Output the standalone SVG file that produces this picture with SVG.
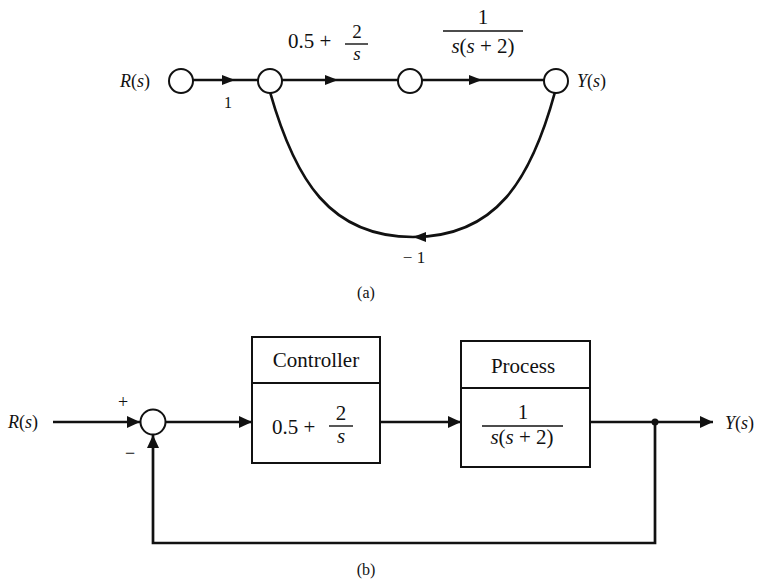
<svg xmlns="http://www.w3.org/2000/svg" width="759" height="580" viewBox="0 0 759 580">
<style>
text{font-family:"Liberation Serif","Times New Roman",serif;fill:#111}
.i{font-style:italic}
.node{fill:#fff;stroke:#111;stroke-width:2}
.ln{fill:none;stroke:#111;stroke-width:2.7}
.box{fill:#fff;stroke:#111;stroke-width:2}
.bar{stroke:#111;stroke-width:1.4}
.big{font-size:21px}
.sig{font-size:18px}
</style>
<defs>
<marker id="ah" markerUnits="userSpaceOnUse" markerWidth="14" markerHeight="12" refX="13" refY="6" orient="auto">
<path d="M0,0 L13,6 L0,12 z" fill="#111"/>
</marker>
<marker id="ahs" markerUnits="userSpaceOnUse" markerWidth="14" markerHeight="11" refX="13" refY="5" orient="auto">
<path d="M0,0 L13,5 L0,10 z" fill="#111"/>
</marker>
</defs>
<rect width="759" height="580" fill="#fff"/>

<!-- (a) signal flow graph -->
<g id="connectors-a">
<path class="ln" d="M193,80 L235,80 L258,80" marker-mid="url(#ahs)"/>
<path class="ln" d="M282,80 L338,80 L398,80" marker-mid="url(#ahs)"/>
<path class="ln" d="M422,80 L482,80 L544,80" marker-mid="url(#ahs)"/>
<path class="ln" d="M555,92 C531,180 496,237 413,237 C330,237 295,180 270,92" marker-mid="url(#ahs)"/>
</g>
<g id="n-R">
<circle class="node" cx="181" cy="81" r="12"/>
<text class="sig" x="120" y="87"><tspan class="i">R</tspan>(<tspan class="i">s</tspan>)</text>
</g>
<g id="n-2"><circle class="node" cx="270" cy="81" r="12"/></g>
<g id="n-3"><circle class="node" cx="410" cy="81" r="12"/></g>
<g id="n-Y">
<circle class="node" cx="556" cy="81" r="12"/>
<text class="sig" x="577" y="87"><tspan class="i">Y</tspan>(<tspan class="i">s</tspan>)</text>
</g>
<g id="labels-a">
<text x="228" y="108" font-size="16" text-anchor="middle">1</text>
<text class="big" x="288" y="48">0.5 +</text>
<text x="357" y="38" font-size="19" text-anchor="middle">2</text>
<line class="bar" x1="345" y1="44" x2="368" y2="44"/>
<text x="357" y="59.5" font-size="19" class="i" text-anchor="middle">s</text>
<text class="big" x="483" y="24" text-anchor="middle">1</text>
<line class="bar" x1="443" y1="31" x2="523" y2="31"/>
<text class="big" x="483" y="53" text-anchor="middle"><tspan class="i">s</tspan>(<tspan class="i">s</tspan> + 2)</text>
<text x="414" y="263" font-size="17" text-anchor="middle">− 1</text>
<text x="366" y="298" font-size="16" text-anchor="middle">(a)</text>
</g>

<!-- (b) block diagram -->
<g id="connectors-b">
<line class="ln" x1="53" y1="422" x2="140" y2="422" marker-end="url(#ah)"/>
<line class="ln" x1="165.5" y1="422" x2="252" y2="422" marker-end="url(#ah)"/>
<line class="ln" x1="380" y1="422" x2="461" y2="422" marker-end="url(#ah)"/>
<line class="ln" x1="590" y1="422" x2="713" y2="422" marker-end="url(#ah)"/>
<path class="ln" d="M655,422 L655,543 L153,543 L153,435" marker-end="url(#ah)"/>
<circle cx="655" cy="422" r="3.5" fill="#111"/>
</g>
<g id="in-R">
<text class="sig" x="8" y="428"><tspan class="i">R</tspan>(<tspan class="i">s</tspan>)</text>
</g>
<g id="sum">
<circle class="node" cx="153" cy="422" r="12.5"/>
<text x="123" y="408" font-size="18" text-anchor="middle">+</text>
<text x="130" y="459" font-size="18" text-anchor="middle">−</text>
</g>
<g id="controller">
<rect class="box" x="252" y="337" width="128" height="126"/>
<line class="box" x1="252" y1="383" x2="380" y2="383"/>
<text class="big" x="316" y="367" text-anchor="middle">Controller</text>
<text class="big" x="272" y="434">0.5 +</text>
<text class="big" x="341" y="420" text-anchor="middle">2</text>
<line class="bar" x1="329" y1="426" x2="353" y2="426"/>
<text class="big i" x="341" y="443" text-anchor="middle">s</text>
</g>
<g id="process">
<rect class="box" x="461" y="341" width="129" height="126"/>
<line class="box" x1="461" y1="388" x2="590" y2="388"/>
<text class="big" x="523" y="373" text-anchor="middle">Process</text>
<text class="big" x="523" y="419" text-anchor="middle">1</text>
<line class="bar" x1="482" y1="426" x2="563" y2="426"/>
<text class="big" x="522" y="444" text-anchor="middle"><tspan class="i">s</tspan>(<tspan class="i">s</tspan> + 2)</text>
</g>
<g id="out-Y">
<text class="sig" x="725" y="429"><tspan class="i">Y</tspan>(<tspan class="i">s</tspan>)</text>
</g>
<text x="366" y="575" font-size="16" text-anchor="middle">(b)</text>
</svg>
